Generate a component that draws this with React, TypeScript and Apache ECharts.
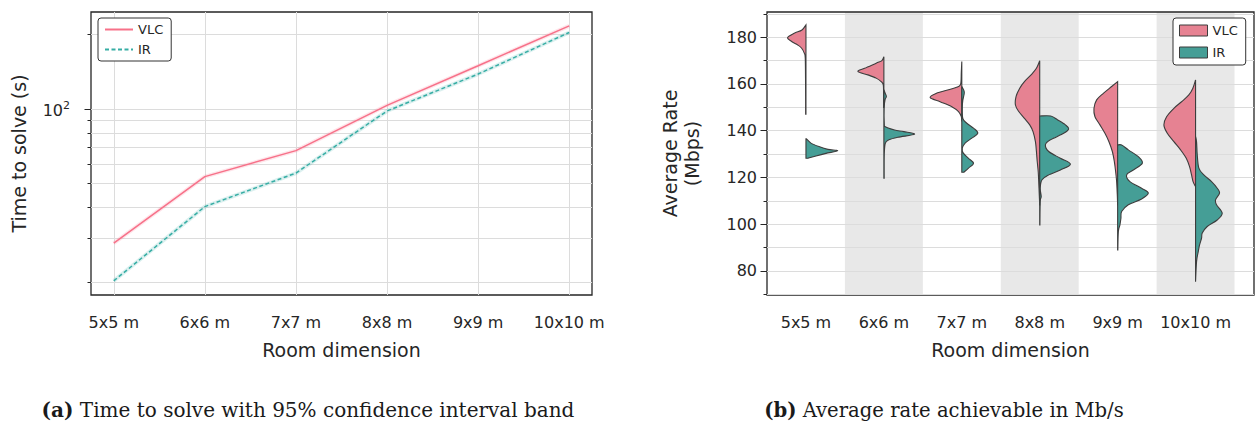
import React, { useEffect, useRef } from 'react';
import * as echarts from 'echarts';

// ---------- data ----------
const CATEGORIES = ['5x5 m', '6x6 m', '7x7 m', '8x8 m', '9x9 m', '10x10 m'];
const SERIES_NAMES = ['VLC', 'IR'];

// time to solve (s), log scale
const VLC_TIME = [28.7, 53.3, 67.9, 103.5, 149.6, 217];
const IR_TIME = [20.2, 40.3, 55.1, 98.2, 138.5, 204];
const TIME_RANGE = [17.7, 246.8];
const TIME_MINOR_TICKS = [20, 30, 40, 50, 60, 70, 80, 90, 100, 200];
const TIME_MAJOR_TICKS = [100];

// average rate (Mbps)
const RATE_RANGE = [69.7, 190.8];
const RATE_MAJOR_TICKS = [80, 100, 120, 140, 160, 180];
const RATE_MINOR_TICKS = [70, 90, 110, 130, 150, 170, 190];
const SHADED_CATEGORIES = [1, 3, 5];

// violin half profiles: [rate, density width]
const VLC_RATE_DENSITY: number[][][] = [
  [[185.3, 0], [183.1, 4], [181.7, 11.7], [179.8, 18.4], [178.1, 14], [176.7, 8.3], [175.3, 4.3], [173.2, 1.7], [171, 0.7], [160, 0.4], [147.1, 0.3]],
  [[171.7, 0], [170, 2], [168.9, 7.7], [166.7, 19.3], [165.3, 26], [163.9, 16], [162.5, 7.7], [161, 2.7], [159.6, 0.6], [155, 0.3], [150, 0.3]],
  [[169.6, 0], [165, 0.5], [160.3, 1], [158.9, 3.3], [157.5, 13.3], [156.1, 25], [154.2, 31.7], [152.4, 21.7], [150.3, 10], [148.2, 3.3], [146, 0.5], [144, 0]],
  [[169.9, 0], [166.7, 3.3], [163.9, 8.7], [161, 15.3], [158.2, 20], [154.6, 23.7], [151, 24.3], [148.2, 21], [145.3, 15.3], [142.5, 10], [139.6, 6.7], [135.3, 4.3], [131.1, 3.3], [126.8, 2.5], [122.5, 1.5], [118.2, 1], [112, 0.4], [108, 0]],
  [[161, 0], [158.9, 6], [156, 14.3], [153.2, 21], [149.6, 23.7], [146, 22.7], [142.5, 17.7], [138.9, 12.7], [135.3, 8.7], [131.1, 5.3], [126.8, 3.3], [122.5, 2], [118.2, 1], [112, 0.3], [108, 0]],
  [[161.7, 0], [158.2, 2.7], [155.3, 6.7], [152.4, 14], [149.6, 21.7], [146, 29], [142.5, 31.7], [138.9, 28.3], [135.3, 21.7], [131.8, 15], [128.2, 9.3], [124.6, 6], [121.1, 4], [118.2, 2.5], [116, 0]],
];
const IR_RATE_DENSITY: number[][][] = [
  [[136.5, 0.5], [134.7, 5], [133.2, 13], [132, 22], [131.4, 31.7], [130.3, 20], [129.2, 10], [128.2, 2]],
  [[157.5, 0], [155.8, 1.5], [154.6, 2.5], [153.3, 1.2], [150, 0.3], [143, 0.4], [141.7, 1.5], [140.3, 10.7], [139.6, 20], [138.5, 30.7], [137.2, 14], [136.1, 5], [134.7, 1.5], [130, 0.4], [119.7, 0.3]],
  [[158.9, 0], [156.5, 2.5], [153, 1], [150, 0.5], [145.3, 1], [143.2, 5], [141.1, 11.7], [139, 16], [136.8, 10], [134.7, 3.3], [132.5, 0.5], [130.4, 1.5], [128.2, 6.7], [126.1, 11.7], [124, 6.7], [122.2, 2]],
  [[146.3, 0], [146.3, 11], [144.6, 18], [142.5, 25.7], [140.8, 29], [138.9, 24], [136.1, 10.7], [134, 5.7], [131.1, 9], [128.2, 20.7], [125.7, 30.7], [123.2, 20.7], [121.1, 9], [119, 2.3], [115.4, 0.5], [111.8, 1.5], [109.7, 0.5], [99.7, 0.2]],
  [[133.9, 0], [133.9, 4], [131.8, 10.7], [128.9, 20.7], [126.1, 24.7], [123.2, 15.7], [121.1, 9], [118.2, 12.3], [115.4, 24], [113.3, 30.7], [110.8, 24], [108.3, 10.7], [105.4, 4], [102.6, 3.3], [99.7, 2.3], [96.8, 0.7], [89, 0.2]],
  [[137.5, 0], [135.3, 1], [129.6, 1.7], [124, 3.3], [121.1, 8.3], [118.2, 16], [115.4, 21.7], [113.3, 24], [110.4, 20], [108.3, 21], [104.7, 26.7], [101.8, 21.7], [99, 11.7], [96.2, 6.7], [94, 6], [91.1, 4], [88.3, 2.7], [84, 1], [75.4, 0]],
];
const DENSITY_PER_CATEGORY = 78;

// ---------- styles ----------
const LINE_COLORS = ['#f77189', '#36ada4'];
const VIOLIN_COLORS = ['#e68292', '#459e96'];
const FONT = 'DejaVu Sans';
const TEXT = '#262626';
const GRID_LINE = '#dcdcdc';

const lg = (v: number) => Math.log10(v);

// custom smooth half-violin shape
const ViolinHalf = (echarts.graphic as any).extendShape({
  type: 'violinHalf',
  shape: { points: [] as number[][], cx: 0, side: 1 },
  buildPath(ctx: any, shape: any) {
    const pts: number[][] = shape.points;
    const cx: number = shape.cx;
    const side: number = shape.side;
    if (!pts || !pts.length) return;
    const clampX = (x: number) => (side < 0 ? Math.min(x, cx) : Math.max(x, cx));
    ctx.moveTo(cx, pts[0][1]);
    ctx.lineTo(pts[0][0], pts[0][1]);
    for (let i = 0; i < pts.length - 1; i++) {
      const p0 = pts[i - 1] || pts[i];
      const p1 = pts[i];
      const p2 = pts[i + 1];
      const p3 = pts[i + 2] || p2;
      ctx.bezierCurveTo(
        clampX(p1[0] + (p2[0] - p0[0]) / 6), p1[1] + (p2[1] - p0[1]) / 6,
        clampX(p2[0] - (p3[0] - p1[0]) / 6), p2[1] - (p3[1] - p1[1]) / 6,
        p2[0], p2[1]
      );
    }
    ctx.lineTo(cx, pts[pts.length - 1][1]);
    ctx.closePath();
  },
});
(echarts.graphic as any).registerShape('violinHalf', ViolinHalf);

function violinSeries(name: string, idx: number, profiles: number[][][], side: number) {
  return {
    name,
    type: 'custom',
    xAxisIndex: 1,
    yAxisIndex: 2,
    z: 3,
    data: CATEGORIES.map((_, i) => [i, profiles[i][0][0], profiles[i][profiles[i].length - 1][0]]),
    itemStyle: { color: VIOLIN_COLORS[idx], borderColor: '#3d3d3d', borderWidth: 1 },
    renderItem: (params: any, api: any) => {
      const i = api.value(0);
      const prof = profiles[i];
      const unit = api.size([1, 0])[0] / DENSITY_PER_CATEGORY;
      const c = api.coord([i, prof[0][0]]);
      const pts = prof.map(([v, w]) => {
        const p = api.coord([i, v]);
        return [p[0] + side * w * unit, p[1]];
      });
      return {
        type: 'violinHalf',
        shape: { points: pts, cx: c[0], side },
        style: { fill: VIOLIN_COLORS[idx], stroke: '#3d3d3d', lineWidth: 1.1 },
      };
    },
  };
}

export default function App() {
  const ref = useRef<HTMLDivElement>(null);
  useEffect(() => {
    if (!ref.current) return;
    const chart = echarts.init(ref.current, undefined, { renderer: 'svg' });
    const tickLabel = { color: TEXT, fontFamily: FONT, fontSize: 16 };
    const axisName = { color: TEXT, fontFamily: FONT, fontSize: 19 };
    const noLine = { show: false, onZero: false };
    const option: any = {
      animation: false,
      backgroundColor: '#ffffff',
      textStyle: { fontFamily: FONT },
      grid: [
        { left: 91, top: 12, width: 501, height: 283, show: true, borderColor: '#262626', borderWidth: 1.3, backgroundColor: 'transparent' },
        { left: 767, top: 12, width: 487, height: 283, show: true, borderColor: '#262626', borderWidth: 1.3, backgroundColor: 'transparent' },
      ],
      xAxis: [
        {
          type: 'value', gridIndex: 0, min: -0.25, max: 5.25,
          axisLine: noLine,
          axisTick: { show: false, customValues: CATEGORIES.map((_, i) => i) },
          axisLabel: { ...tickLabel, margin: 19, customValues: CATEGORIES.map((_, i) => i), formatter: (v: number) => CATEGORIES[Math.round(v)] ?? '' },
          splitLine: { show: true, lineStyle: { color: GRID_LINE, width: 1 } },
          name: 'Room dimension', nameLocation: 'middle', nameGap: 45, nameTextStyle: axisName,
        },
        {
          type: 'value', gridIndex: 1, min: -0.5, max: 5.75,
          axisLine: noLine,
          axisTick: { show: false, customValues: CATEGORIES.map((_, i) => i) },
          axisLabel: { ...tickLabel, margin: 19, customValues: CATEGORIES.map((_, i) => i), formatter: (v: number) => CATEGORIES[Math.round(v)] ?? '' },
          splitLine: { show: false },
          name: 'Room dimension', nameLocation: 'middle', nameGap: 45, nameTextStyle: axisName,
        },
      ],
      yAxis: [
        {
          type: 'value', gridIndex: 0, min: lg(TIME_RANGE[0]), max: lg(TIME_RANGE[1]),
          axisLine: noLine,
          axisTick: { show: true, length: 3.5, customValues: TIME_MINOR_TICKS.map(lg), lineStyle: { color: TEXT, width: 1 } },
          axisLabel: {
            ...tickLabel, margin: 21, customValues: TIME_MAJOR_TICKS.map(lg),
            formatter: (v: number) => '{a|10}{s|' + Math.round(v) + '}',
            rich: {
              a: { fontFamily: FONT, fontSize: 16, color: TEXT, verticalAlign: 'bottom' },
              s: { fontFamily: FONT, fontSize: 11, color: TEXT, verticalAlign: 'bottom', padding: [0, 0, 8, 0] },
            },
          },
          splitLine: { show: true, lineStyle: { color: GRID_LINE, width: 1 } },
          name: 'Time to solve (s)', nameLocation: 'middle', nameGap: 63, nameTextStyle: axisName,
        },
        {
          type: 'value', gridIndex: 0, position: 'left', min: lg(TIME_RANGE[0]), max: lg(TIME_RANGE[1]),
          axisLine: noLine,
          axisTick: { show: true, length: 6.5, customValues: TIME_MAJOR_TICKS.map(lg), lineStyle: { color: TEXT, width: 1 } },
          axisLabel: { show: false },
          splitLine: { show: false },
        },
        {
          type: 'value', gridIndex: 1, min: RATE_RANGE[0], max: RATE_RANGE[1],
          axisLine: noLine,
          axisTick: { show: true, length: 6.5, customValues: RATE_MAJOR_TICKS, lineStyle: { color: TEXT, width: 1 } },
          axisLabel: { ...tickLabel, margin: 10, customValues: RATE_MAJOR_TICKS },
          splitLine: { show: true, lineStyle: { color: GRID_LINE, width: 1 } },
          name: 'Average Rate\n(Mbps)', nameLocation: 'middle', nameGap: 64,
          nameTextStyle: { ...axisName, lineHeight: 22 },
        },
        {
          type: 'value', gridIndex: 1, position: 'left', min: RATE_RANGE[0], max: RATE_RANGE[1],
          axisLine: noLine,
          axisTick: { show: true, length: 3.5, customValues: RATE_MINOR_TICKS, lineStyle: { color: TEXT, width: 1 } },
          axisLabel: { show: false },
          splitLine: { show: true, lineStyle: { color: GRID_LINE, width: 1 } },
        },
      ],
      legend: [
        {
          left: 98, top: 18, orient: 'vertical', itemWidth: 28, itemHeight: 14, itemGap: 7,
          padding: [5, 8, 5, 6], borderColor: '#333', borderWidth: 1, borderRadius: 3,
          backgroundColor: '#ffffff',
          textStyle: { color: TEXT, fontFamily: FONT, fontSize: 13 },
          itemStyle: { opacity: 0 },
          data: [
            { name: SERIES_NAMES[0], itemStyle: { opacity: 0 } },
            { name: SERIES_NAMES[1], itemStyle: { opacity: 0 } },
          ],
        },
        {
          left: 1173, top: 18, orient: 'vertical', itemWidth: 28, itemHeight: 11, itemGap: 9,
          padding: [6, 8, 6, 6], borderColor: '#333', borderWidth: 1, borderRadius: 3,
          backgroundColor: '#ffffff',
          textStyle: { color: TEXT, fontFamily: FONT, fontSize: 13 },
          data: [
            { name: SERIES_NAMES[0], icon: 'rect', itemStyle: { color: VIOLIN_COLORS[0], borderColor: '#3d3d3d', borderWidth: 1, opacity: 1 } },
            { name: SERIES_NAMES[1], icon: 'rect', itemStyle: { color: VIOLIN_COLORS[1], borderColor: '#3d3d3d', borderWidth: 1, opacity: 1 } },
          ],
        },
      ],
      series: [
        {
          name: SERIES_NAMES[0], type: 'line', xAxisIndex: 0, yAxisIndex: 0, z: 4,
          data: VLC_TIME.map((v, i) => [i, lg(v)]), symbol: 'none',
          lineStyle: { color: LINE_COLORS[0], width: 1.5 }, itemStyle: { color: LINE_COLORS[0] },
        },
        {
          name: SERIES_NAMES[1], type: 'line', xAxisIndex: 0, yAxisIndex: 0, z: 4,
          data: IR_TIME.map((v, i) => [i, lg(v)]), symbol: 'none',
          lineStyle: { color: LINE_COLORS[1], width: 1.5, type: [4, 2.5] }, itemStyle: { color: LINE_COLORS[1] },
        },
        {
          name: 'VLC band', type: 'line', xAxisIndex: 0, yAxisIndex: 0, z: 3, silent: true,
          data: VLC_TIME.map((v, i) => [i, lg(v)]), symbol: 'none',
          lineStyle: { color: LINE_COLORS[0], width: 4, opacity: 0.18 },
        },
        {
          name: 'IR band', type: 'line', xAxisIndex: 0, yAxisIndex: 0, z: 3, silent: true,
          data: IR_TIME.map((v, i) => [i, lg(v)]), symbol: 'none',
          lineStyle: { color: LINE_COLORS[1], width: 4, opacity: 0.18 },
        },
        {
          name: 'shade', type: 'custom', xAxisIndex: 1, yAxisIndex: 2, z: -1, silent: true,
          data: SHADED_CATEGORIES.map((i) => [i, RATE_RANGE[0]]),
          renderItem: (params: any, api: any) => {
            const i = api.value(0);
            const cs = params.coordSys;
            const a = api.coord([i - 0.5, RATE_RANGE[0]]);
            const b = api.coord([i + 0.5, RATE_RANGE[0]]);
            return { type: 'rect', shape: { x: a[0], y: cs.y, width: b[0] - a[0], height: cs.height }, style: { fill: '#e8e8e8' } };
          },
        },
        violinSeries(SERIES_NAMES[0], 0, VLC_RATE_DENSITY, -1),
        violinSeries(SERIES_NAMES[1], 1, IR_RATE_DENSITY, 1),
      ],
      graphic: [
        {
          type: 'text', x: 308, y: 410,
          style: {
            text: '{b|(a)} Time to solve with 95% confidence interval band',
            align: 'center', verticalAlign: 'middle', fill: '#1a1a1a',
            fontFamily: 'DejaVu Serif', fontSize: 20,
            rich: { b: { fontWeight: 'bold', fontFamily: 'DejaVu Serif', fontSize: 20, fill: '#1a1a1a' } },
          },
        },
        {
          type: 'text', x: 944, y: 410,
          style: {
            text: '{b|(b)} Average rate achievable in Mb/s',
            align: 'center', verticalAlign: 'middle', fill: '#1a1a1a',
            fontFamily: 'DejaVu Serif', fontSize: 19.6,
            rich: { b: { fontWeight: 'bold', fontFamily: 'DejaVu Serif', fontSize: 19.6, fill: '#1a1a1a' } },
          },
        },
      ],
    };
    chart.setOption(option);
    return () => chart.dispose();
  }, []);
  return <div ref={ref} style={{ position: 'absolute', left: 0, top: 0, width: 1257, height: 428 }} />;
}
